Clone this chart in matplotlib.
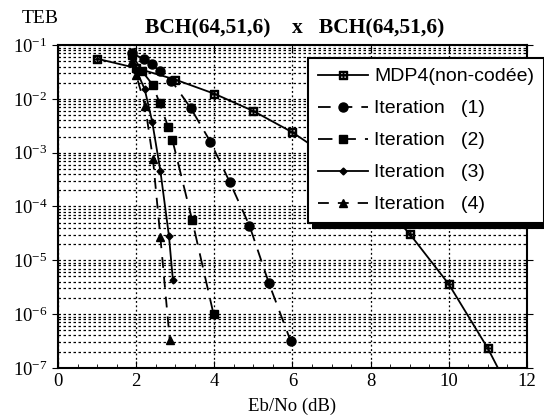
import numpy as np
import matplotlib
matplotlib.use("Agg")
import matplotlib.pyplot as plt
from matplotlib.ticker import LogLocator, MultipleLocator, NullFormatter

plt.rcParams["font.family"] = "serif"
plt.rcParams["font.serif"] = ["Liberation Serif", "DejaVu Serif"]

# courbes
eb_mdp4 = [1, 2, 3, 4, 5, 6, 7, 8, 9, 10, 11, 12]
teb_mdp4 = [5.6e-2, 3.75e-2, 2.29e-2, 1.25e-2, 5.95e-3, 2.39e-3,
            7.7e-4, 1.9e-4, 3.1e-5, 3.6e-6, 2.3e-7, 9e-9]

eb_it1 = [1.9, 2.2, 2.4, 2.6, 2.9, 3.4, 3.9, 4.4, 4.9, 5.4, 5.95]
teb_it1 = [7.0e-2, 5.5e-2, 4.4e-2, 3.3e-2, 2.2e-2, 6.7e-3, 1.6e-3,
           2.8e-4, 4.4e-5, 3.7e-6, 3.2e-7]

eb_it2 = [1.9, 2.15, 2.43, 2.6, 2.82, 2.93, 3.43, 3.98]
teb_it2 = [6.5e-2, 3.3e-2, 1.8e-2, 8.3e-3, 3.0e-3, 1.7e-3, 5.7e-5, 1.0e-6]

eb_it3 = [1.9, 2.0, 2.22, 2.41, 2.62, 2.84, 2.94]
teb_it3 = [6.0e-2, 3.5e-2, 1.5e-2, 3.8e-3, 4.6e-4, 2.8e-5, 4.3e-6]

eb_it4 = [1.9, 2.0, 2.23, 2.43, 2.62, 2.86]
teb_it4 = [5.0e-2, 2.8e-2, 7.4e-3, 7.6e-4, 2.7e-5, 3.3e-7]

labels = ["MDP4(non-codée)", "Iteration   (1)", "Iteration   (2)",
          "Iteration   (3)", "Iteration   (4)"]

fig = plt.figure(figsize=(5.44, 4.18), dpi=100)
ax = fig.add_axes([0.1066, 0.120, 0.862, 0.772])

lw = 1.3
ax.plot(eb_mdp4, teb_mdp4, "-", color="k", lw=lw, marker=r"$\boxplus$",
        ms=5.5, label=labels[0])
ax.plot(eb_it1, teb_it1, color="k", lw=lw, dashes=(7, 5), marker="o",
        ms=6.5, label=labels[1])
ax.plot(eb_it2, teb_it2, color="k", lw=lw, dashes=(8, 5), marker="s",
        ms=5.5, label=labels[2])
ax.plot(eb_it3, teb_it3, "-", color="k", lw=lw, marker="D", ms=3.5,
        label=labels[3])
ax.plot(eb_it4, teb_it4, color="k", lw=lw, dashes=(6, 5), marker="^",
        ms=5.5, label=labels[4])

ax.set_yscale("log")
ax.set_xlim(0, 12)
ax.set_ylim(1e-7, 1e-1)

ax.xaxis.set_major_locator(MultipleLocator(2))
ax.xaxis.set_minor_locator(MultipleLocator(0.5))
ax.yaxis.set_major_locator(LogLocator(base=10, numticks=20))
ax.yaxis.set_minor_locator(LogLocator(base=10, subs=np.arange(2, 10), numticks=20))
ax.yaxis.set_minor_formatter(NullFormatter())

yt = [10.0 ** k for k in range(-7, 0)]
ax.set_yticks(yt)
ax.set_yticklabels([r"$\mathregular{10^{%d}}$" % k for k in range(-7, 0)])

ax.grid(which="both", axis="y", color="k", ls=(0, (2, 2)), lw=0.9)
ax.grid(which="major", axis="x", color="k", ls=(0, (1.5, 2)), lw=0.9)

ax.tick_params(axis="both", which="major", labelsize=13.5, color="k")
ax.tick_params(axis="x", which="major", direction="in", length=5, top=True)
ax.tick_params(axis="x", which="minor", direction="in", length=3, top=False)
ax.tick_params(axis="y", which="major", direction="out", length=4,
               right=True)
ax.tick_params(axis="y", which="minor", length=0)
for s in ax.spines.values():
    s.set_linewidth(1.5)

ax.set_xlabel("Eb/No (dB)", fontsize=13.5, labelpad=6)
fig.text(0.04, 0.935, "TEB", fontsize=14, ha="left", va="bottom")
fig.text(0.542, 0.908, "BCH(64,51,6)    x   BCH(64,51,6)", fontsize=15.5,
         fontweight="bold", ha="center", va="bottom")

leg = ax.legend(loc="upper left", bbox_to_anchor=(308 / 544, 1 - 58 / 418),
                bbox_transform=fig.transFigure, prop={"family": "Liberation Sans", "size": 14},
                frameon=True, fancybox=False, borderpad=0.5, labelspacing=0.74,
                handlelength=2.6, handletextpad=0.3, borderaxespad=0,
                shadow={"ox": 3.5, "oy": -3.5, "color": "black", "alpha": 1})
leg.get_frame().set_edgecolor("k")
leg.get_frame().set_linewidth(1.5)
leg.get_frame().set_alpha(1)

fig.savefig("out.png", dpi=100)
